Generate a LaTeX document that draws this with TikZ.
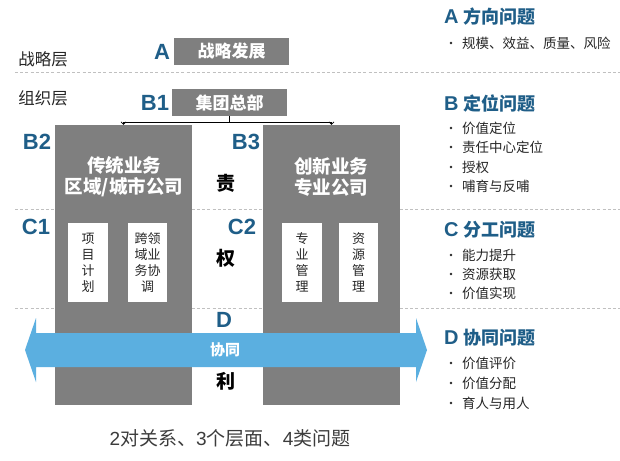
\documentclass[tikz,border=0pt]{standalone}
\usepackage{fontspec}
\setmainfont{Noto Sans CJK SC}
\newfontfamily\lat{Liberation Sans}
\usetikzlibrary{arrows.meta}
\definecolor{boxgray}{HTML}{7F7F7F}
\definecolor{letblue}{HTML}{1F5E88}
\definecolor{arrblue}{HTML}{5BAFE0}
\definecolor{dashgray}{HTML}{C0C0C0}
\definecolor{txtdark}{HTML}{262626}
\tikzset{
  dashline/.style={draw=dashgray, line width=0.8pt, dash pattern=on 3pt off 2.2pt},
  laylabel/.style={text=txtdark, font=\fontsize{16.5}{18}\selectfont, inner sep=0},
  letter/.style={text=letblue, font=\lat\bfseries\fontsize{22}{23}\selectfont, inner sep=0},
  topbox/.style={fill=boxgray, text=white, minimum width=115pt, minimum height=27pt, inner sep=0, font=\bfseries\fontsize{17}{18}\selectfont},
  bigbox/.style={fill=boxgray, minimum width=137pt, minimum height=280pt, inner sep=0},
  bigtext/.style={text=white, align=center, font=\bfseries\fontsize{18.5}{21}\selectfont, inner sep=0},
  whitebox/.style={fill=white, minimum height=79pt, inner sep=0, align=center, text=txtdark, font=\fontsize{13}{16}\selectfont},
  midchar/.style={text=black, font=\bfseries\fontsize{19}{20}\selectfont, inner sep=0},
  conn/.style={draw=black, line width=0.7pt},
  heading/.style={anchor=west, text=letblue, font=\bfseries\fontsize{18}{20}\selectfont, inner sep=0},
  bul/.style={anchor=west, text=txtdark, font=\fontsize{13.5}{15}\selectfont, inner sep=0},
  dot/.style={circle, fill=txtdark, inner sep=0, minimum size=2.6pt},
}
\begin{document}
\begin{tikzpicture}[x=1pt,y=-1pt]
\useasboundingbox[fill=white] (0,0) rectangle (620,460);

% dashed separators
\draw[dashline] (15,72) -- (620,72);
\draw[dashline] (15,209) -- (620,209);
\draw[dashline] (15,308) -- (620,308);

% layer labels
\node[laylabel] (l1) at (43,59) {战略层};
\node[laylabel] (l2) at (43,98) {组织层};

% A / B1 boxes
\node[letter] (la) at (162,51.5) {A};
\node[topbox] (ba) at (231.5,51.5) {战略发展};
\node[letter] (lb1) at (155,102.5) {B1};
\node[topbox] (bb1) at (229.5,102.5) {集团总部};

% big boxes
\node[bigbox] (lb) at (123.5,265) {};
\node[bigbox] (rb) at (331.5,265) {};
\node[bigtext] (lbt) at (124,177) {传统业务\\区域/城市公司};
\node[bigtext] (rbt) at (331,177) {创新业务\\专业公司};

% connectors
\coordinate (j) at (229.5,122);
\draw[conn] (bb1.south) -- (j);
\draw[conn, -{Straight Barb[length=2.5pt,width=5pt]}] (j) -| (lb.north);
\draw[conn, -{Straight Barb[length=2.5pt,width=5pt]}] (j) -| (rb.north);

% letters B2 B3 C1 C2 D
\node[letter] (lb2) at (37,142) {B2};
\node[letter] (lb3) at (246,142) {B3};
\node[letter] (lc1) at (36,227) {C1};
\node[letter] (lc2) at (242,227) {C2};
\node[letter] (ld) at (224,320) {D};

% white boxes
\node[whitebox, minimum width=40pt] (w1) at (88,262.5) {项\\目\\计\\划};
\node[whitebox, minimum width=39pt] (w2) at (147.5,262.5) {跨领\\域业\\务协\\调};
\node[whitebox, minimum width=40pt] (w3) at (302,262.5) {专\\业\\管\\理};
\node[whitebox, minimum width=39pt] (w4) at (358.5,262.5) {资\\源\\管\\理};

% middle characters
\node[midchar] (m1) at (226,183) {责};
\node[midchar] (m2) at (226,258) {权};
\node[midchar] (m3) at (226,381) {利};

% double arrow
\fill[arrblue] (25,350) -- (36,318) -- (36,333) -- (416,333) -- (416,318) -- (427,350)
  -- (416,382) -- (416,367) -- (36,367) -- (36,382) -- cycle;
\node[text=white, font=\bfseries\fontsize{15}{16}\selectfont, inner sep=0] (sync) at (225,350) {协同};

% caption
\node[text=txtdark!90, font=\fontsize{19}{20}\selectfont, inner sep=0] (cap) at (230,438) {{\lat 2}对关系、{\lat 3}个层面、{\lat 4}类问题};

% right column
\node[heading] (ha) at (444,17) {{\lat\fontsize{20}{20}\selectfont A}\hspace{5pt}方向问题};
\node[dot] (da1) at (451,43) {};
\node[bul] (ta1) at (462,43) {规模、效益、质量、风险};

\node[heading] (hb) at (444,103) {{\lat\fontsize{20}{20}\selectfont B}\hspace{5pt}定位问题};
\node[dot] (db1) at (451,128) {};
\node[bul] (tb1) at (462,128) {价值定位};
\node[dot] (db2) at (451,147) {};
\node[bul] (tb2) at (462,147) {责任中心定位};
\node[dot] (db3) at (451,167) {};
\node[bul] (tb3) at (462,167) {授权};
\node[dot] (db4) at (451,186) {};
\node[bul] (tb4) at (462,186) {哺育与反哺};

\node[heading] (hc) at (444,230) {{\lat\fontsize{20}{20}\selectfont C}\hspace{5pt}分工问题};
\node[dot] (dc1) at (451,255) {};
\node[bul] (tc1) at (462,255) {能力提升};
\node[dot] (dc2) at (451,274) {};
\node[bul] (tc2) at (462,274) {资源获取};
\node[dot] (dc3) at (451,293) {};
\node[bul] (tc3) at (462,293) {价值实现};

\node[heading] (hd) at (444,338) {{\lat\fontsize{20}{20}\selectfont D}\hspace{5pt}协同问题};
\node[dot] (dd1) at (451,363) {};
\node[bul] (td1) at (462,363) {价值评价};
\node[dot] (dd2) at (451,383) {};
\node[bul] (td2) at (462,383) {价值分配};
\node[dot] (dd3) at (451,403) {};
\node[bul] (td3) at (462,403) {育人与用人};
\end{tikzpicture}
\end{document}
